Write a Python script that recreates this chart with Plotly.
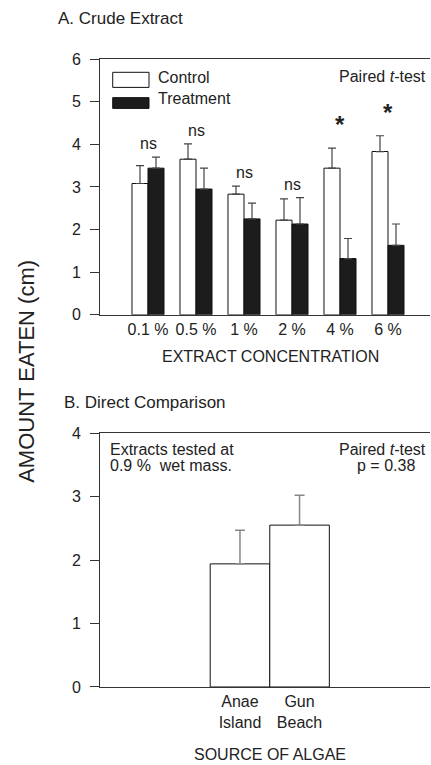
import plotly.graph_objects as go

# ---- Data ----
concentrations = ["0.1 %", "0.5 %", "1 %", "2 %", "4 %", "6 %"]
control_mean = [3.08, 3.65, 2.83, 2.22, 3.44, 3.83]
control_se = [0.42, 0.36, 0.19, 0.50, 0.47, 0.37]
treatment_mean = [3.44, 2.95, 2.25, 2.13, 1.32, 1.63]
treatment_se = [0.26, 0.49, 0.37, 0.62, 0.47, 0.50]
significance = ["ns", "ns", "ns", "ns", "*", "*"]

sources = ["Anae<br>Island", "Gun<br>Beach"]
source_mean = [1.94, 2.55]
source_se = [0.53, 0.47]

yticks_a = [0, 1, 2, 3, 4, 5, 6]
yticks_b = [0, 1, 2, 3, 4]

FONT = "Liberation Sans, Arial, sans-serif"
TXT = "#222222"
LINE = "#333333"

fig = go.Figure()

fig.add_trace(go.Bar(
    x=concentrations, y=control_mean, name="Control",
    marker=dict(color="white", line=dict(color="#111111", width=1)),
    error_y=dict(type="data", array=control_se, arrayminus=[0] * len(control_se),
                 symmetric=False, color="#444444", thickness=1.2, width=4),
    xaxis="x", yaxis="y", showlegend=False,
))
fig.add_trace(go.Bar(
    x=concentrations, y=treatment_mean, name="Treatment",
    marker=dict(color="#1c1c1c", line=dict(color="#111111", width=1)),
    error_y=dict(type="data", array=treatment_se, arrayminus=[0] * len(treatment_se),
                 symmetric=False, color="#444444", thickness=1.2, width=4),
    xaxis="x", yaxis="y", showlegend=False,
))
fig.add_trace(go.Bar(
    x=sources, y=source_mean, name="Source",
    width=1,
    marker=dict(color="white", line=dict(color="#111111", width=1)),
    error_y=dict(type="data", array=source_se, arrayminus=[0] * len(source_se),
                 symmetric=False, color="#888888", thickness=1.5, width=5),
    xaxis="x2", yaxis="y2", showlegend=False,
))

axis_common = dict(showgrid=False, zeroline=False, showline=True, linecolor=LINE,
                   linewidth=1, tickfont=dict(family=FONT, size=16, color=TXT))

fig.update_layout(
    width=431, height=765,
    margin=dict(l=100, r=1, t=59, b=78),
    paper_bgcolor="white", plot_bgcolor="white",
    barmode="group", bargap=0.333, bargroupgap=0,
    font=dict(family=FONT, color=TXT),
    xaxis=dict(domain=[0, 1], anchor="y", range=[-1, 5.875], ticks="",
               mirror=True, **axis_common),
    yaxis=dict(domain=[0.5926, 1], anchor="x", range=[0, 6], tickvals=yticks_a,
               ticks="outside", ticklen=9, tickcolor=LINE, ticklabelstandoff=6,
               **axis_common),
    xaxis2=dict(domain=[0, 1], anchor="y2", range=[-2.35, 3.19], ticks="",
                mirror=True, **axis_common),
    yaxis2=dict(domain=[0, 0.4043], anchor="x2", range=[0, 4], tickvals=yticks_b,
                ticks="outside", ticklen=9, tickcolor=LINE, ticklabelstandoff=6,
                **axis_common),
)

ann = []
# Significance labels computed from data
for cat, c, ce, t, te, s in zip(concentrations, control_mean, control_se,
                                 treatment_mean, treatment_se, significance):
    top = max(c + ce, t + te)
    if s == "*":
        ann.append(dict(x=cat, y=top, xref="x", yref="y", text="<b>*</b>", showarrow=False,
                        yanchor="bottom", yshift=8, font=dict(size=24, color=TXT)))
    else:
        ann.append(dict(x=cat, y=top, xref="x", yref="y", text="ns", showarrow=False,
                        yanchor="bottom", yshift=3, font=dict(size=16, color=TXT)))

# Legend (panel A)
fig.add_shape(type="rect", xref="x domain", yref="y domain", x0=0.0385, x1=0.1485,
              y0=0.889, y1=0.948, line=dict(color="#111111", width=1), fillcolor="white")
fig.add_shape(type="rect", xref="x domain", yref="y domain", x0=0.0385, x1=0.1485,
              y0=0.807, y1=0.849, line=dict(color="#111111", width=1), fillcolor="#1c1c1c")
ann.append(dict(x=0.17, y=0.926, xref="x domain", yref="y domain", text="Control",
                showarrow=False, xanchor="left", yanchor="middle", font=dict(size=16)))
ann.append(dict(x=0.17, y=0.844, xref="x domain", yref="y domain", text="Treatment",
                showarrow=False, xanchor="left", yanchor="middle", font=dict(size=16)))
ann.append(dict(x=0.995, y=0.93, xref="x domain", yref="y domain",
                text="Paired <i>t</i>-test", showarrow=False, xanchor="right",
                yanchor="middle", font=dict(size=16)))

# Panel B texts
ann.append(dict(x=0.025, y=0.934, xref="x2 domain", yref="y2 domain",
                text="Extracts tested at", showarrow=False, xanchor="left",
                yanchor="middle", font=dict(size=16)))
ann.append(dict(x=0.025, y=0.871, xref="x2 domain", yref="y2 domain",
                text="0.9 %  wet mass.", showarrow=False, xanchor="left",
                yanchor="middle", font=dict(size=16)))
ann.append(dict(x=0.857, y=0.934, xref="x2 domain", yref="y2 domain",
                text="Paired <i>t</i>-test", showarrow=False, xanchor="center",
                yanchor="middle", font=dict(size=16)))
ann.append(dict(x=0.866, y=0.871, xref="x2 domain", yref="y2 domain",
                text="p = 0.38", showarrow=False, xanchor="center",
                yanchor="middle", font=dict(size=16)))

# Titles
ann.append(dict(x=-0.133, y=1.0637, xref="paper", yref="paper", text="A. Crude Extract",
                showarrow=False, xanchor="left", yanchor="middle", font=dict(size=17)))
ann.append(dict(x=-0.116, y=0.4525, xref="paper", yref="paper", text="B. Direct Comparison",
                showarrow=False, xanchor="left", yanchor="middle", font=dict(size=17)))
ann.append(dict(x=0.517, y=0.526, xref="paper", yref="paper", text="EXTRACT CONCENTRATION",
                showarrow=False, xanchor="center", yanchor="middle", font=dict(size=16)))
ann.append(dict(x=0.514, y=-0.108, xref="paper", yref="paper", text="SOURCE OF ALGAE",
                showarrow=False, xanchor="center", yanchor="middle", font=dict(size=16)))
ann.append(dict(x=-0.221, y=0.502, xref="paper", yref="paper", text="AMOUNT EATEN (cm)",
                showarrow=False, xanchor="center", yanchor="middle", textangle=-90,
                font=dict(size=22)))

fig.update_layout(annotations=ann)
fig.write_html("out.html", config={"displayModeBar": False},
               post_script="document.body.style.margin='0';document.body.style.padding='0';")
